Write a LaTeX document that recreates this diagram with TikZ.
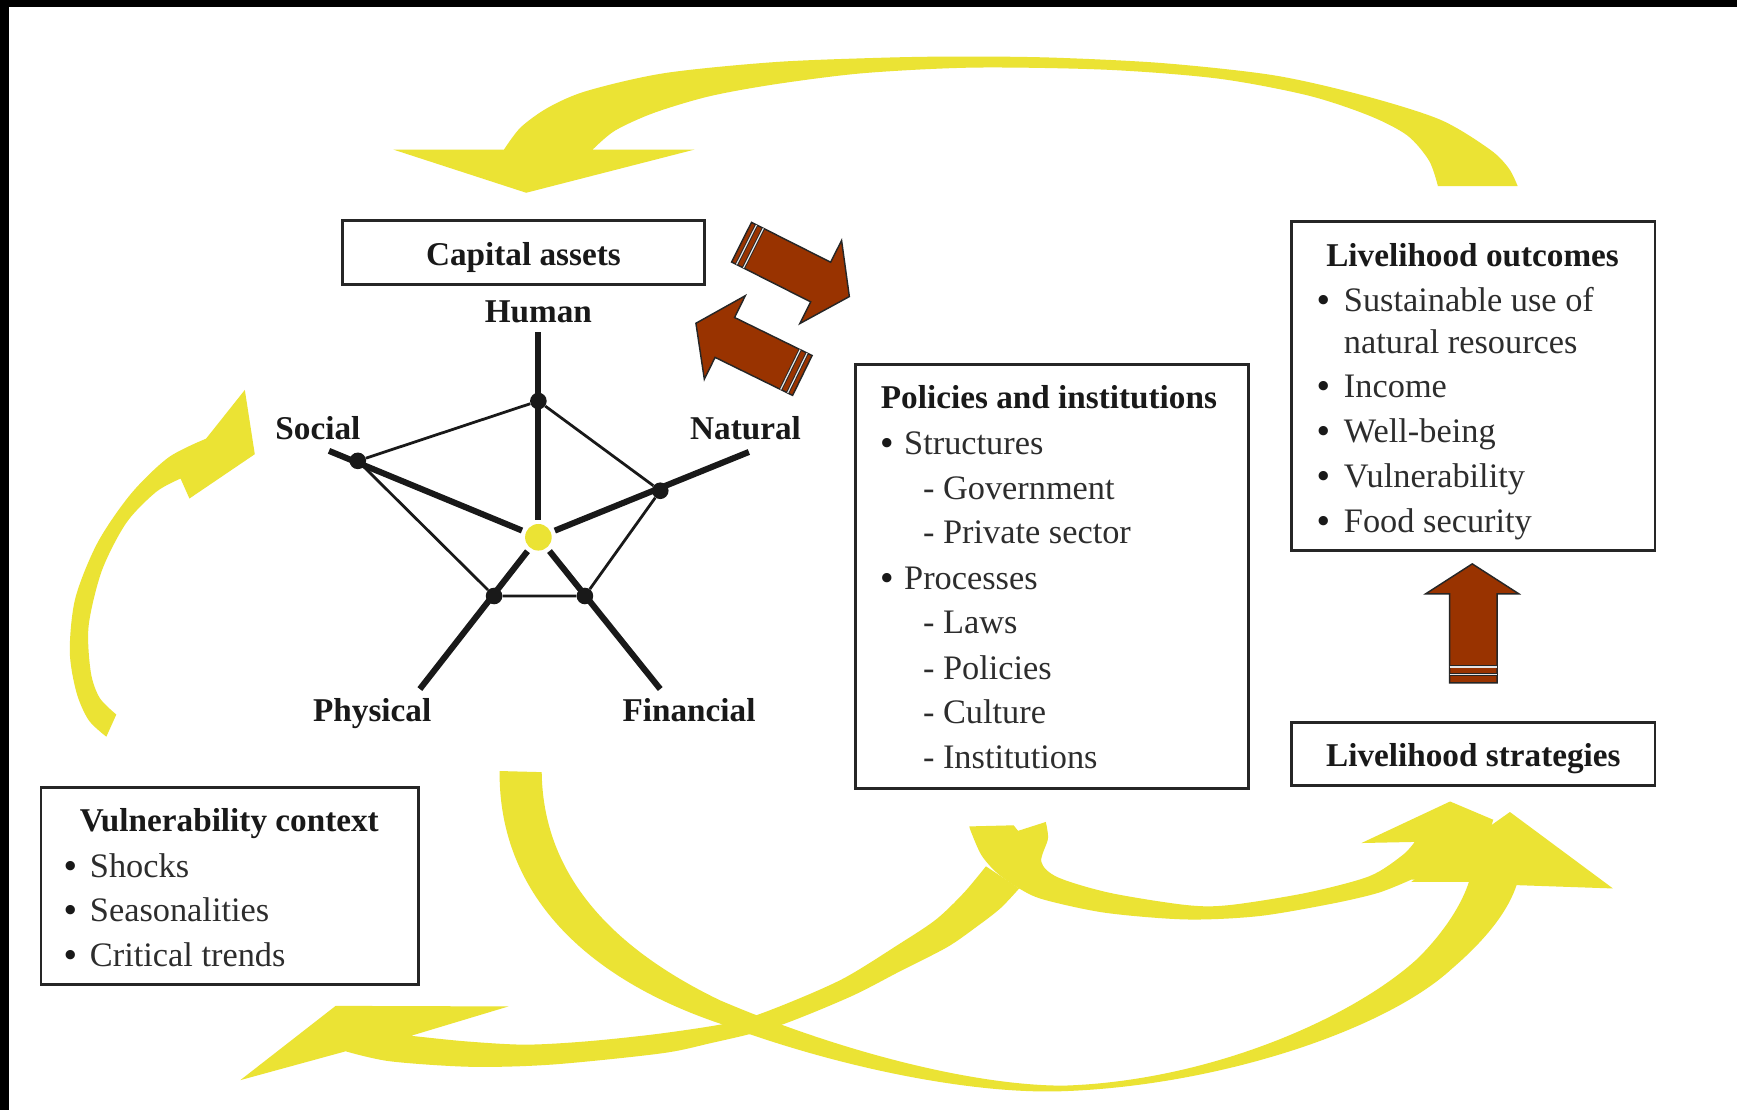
\documentclass[tikz,border=0pt]{standalone}
\usepackage{fontspec}
\setmainfont{Liberation Serif}
\usetikzlibrary{calc}
\definecolor{yel}{RGB}{235,227,52}
\definecolor{brn}{RGB}{153,51,0}
\definecolor{txt}{RGB}{45,45,45}
\begin{document}
\begin{tikzpicture}[x=1pt,y=-1pt,
  box/.style={draw=black!85,line width=2.5pt,inner sep=0pt},
  lbl/.style={font=\fontsize{30}{30}\selectfont\bfseries,text=black!90,inner sep=0pt,anchor=base},
  ttl/.style={font=\fontsize{30}{30}\selectfont\bfseries,text=black!90,inner sep=0pt,anchor=base west},
  itm/.style={font=\fontsize{31}{31}\selectfont,text=txt,inner sep=0pt,anchor=base west},
  bul/.style={font=\fontsize{31}{31}\selectfont\bfseries,text=black!90,inner sep=0pt,anchor=base west},
  yarrow/.style={fill=yel},
  barrow/.style={fill=brn,draw=black!85,line width=1.3pt,line join=miter},
  stripeb/.style={draw=black!85,line width=2.8pt},
  stripew/.style={draw=white!80!gray,line width=1.1pt},
  dotn/.style={circle,fill=black!90,inner sep=0pt,minimum size=15pt},
  spoke/.style={line width=5.5pt,draw=black!90},
  rim/.style={line width=2.5pt,draw=black!90}
]
\useasboundingbox (0,0) rectangle (1568,1002);
\fill[white] (0,0) rectangle (1568,1002);
% black frame bands
\fill[black] (0,0) rectangle (1568,6.3);
\fill[black] (0,0) rectangle (8,1002);

% ---------- yellow arrows ----------
% top arrow (outcomes -> capital assets)
\fill[yarrow] (355,135) -- (455,135) -- plot[smooth] coordinates {(455,135) (470,115) (495,97) (530,82) (600,66) (700,56) (800,52) (870,51) (950,52) (1050,57) (1150,68) (1230,86) (1300,108) (1345,135) (1362,152) (1370,168)}
  -- (1298,168) -- plot[smooth] coordinates {(1298,168) (1290,145) (1270,122) (1235,104) (1180,86) (1100,71) (1000,63) (880,61) (780,66) (700,76) (640,87) (590,102) (555,118) (535,135)}
  -- (627,135) -- (475,174) -- cycle;
% left arrow (vulnerability -> social)
\fill[yarrow] plot[smooth] coordinates {(96,665) (80,650) (69,625) (63,588) (68,540) (88,490) (118,446) (152,413) (186,396)}
  -- (221,352) -- (230,410) -- (171,450) -- (163,432)
  -- plot[smooth] coordinates {(163,432) (141,444) (114,472) (92,515) (80,565) (82,607) (90,630) (105,645)} -- cycle;
% big U arrow (capital assets -> strategies)
\fill[yarrow] (451,696) .. controls (450,800) and (520,880) .. (650,924)
  .. controls (760,965) and (880,988) .. (960,985)
  .. controls (1100,980) and (1250,930) .. (1310,875)
  .. controls (1345,845) and (1362,820) .. (1369,799)
  -- (1456,802) -- (1363,733) -- (1274,796) -- (1326,796)
  .. controls (1320,815) and (1305,840) .. (1280,865)
  .. controls (1220,920) and (1090,976) .. (960,980)
  .. controls (880,980) and (760,950) .. (650,903)
  .. controls (540,850) and (490,780) .. (489,697) -- cycle;
% policies -> strategies
\fill[yarrow] (875,746) -- (915,745) -- (919,750) -- (944,742)
  -- plot[smooth] coordinates {(944,742) (946,757) (940,778) (955,792) (1002,806) (1071,817) (1110,817) (1179,806) (1236,791) (1266,772) (1277,760)}
  -- (1229,761) -- (1309,723.5) -- (1348,740) -- (1330,795) -- (1274,794)
  -- plot[smooth] coordinates {(1274,794) (1244,806) (1201,816) (1136,827) (1071,830) (998,824) (942,812) (920,802) (900,788) (886,772) (877,752) (875,746)} -- cycle;
% policies -> vulnerability
\fill[yarrow] plot[smooth] coordinates {(890,782) (870,806) (845,830) (812,852) (760,884) (700,910) (660,923) (596,933) (530,940) (474,943) (420,940) (371,935)}
  -- (459,908.5) -- (303,908) -- (217,975) -- (312,949)
  -- plot[smooth] coordinates {(312,949) (352,958) (425,963) (498,961) (596,951) (640,942) (700,927) (767,900) (812,877) (855,855) (881,837) (903,820) (920,802)} -- cycle;

% ---------- boxes ----------
\node[box,minimum width=327pt,minimum height=58pt] (cap) at (472.5,228) {};
\node[box,minimum width=355pt,minimum height=383pt] (pol) at (949.5,520.5) {};
\node[box,minimum width=328pt,minimum height=297pt] (lo) at (1330,348.5) {};
\node[box,minimum width=328pt,minimum height=57pt] (ls) at (1330,680.5) {};
\node[box,minimum width=341pt,minimum height=178pt] (vc) at (207.5,800) {};

% ---------- brown arrows ----------
\filldraw[barrow] (678.4,200.7) -- (749.8,236.7) -- (759.7,217.1) -- (766.7,267.7) -- (722.0,292.1) -- (731.8,272.5) -- (660.4,236.5) -- cycle;
\draw[stripeb] (682.9,203.0) -- (664.9,238.7);
\draw[stripew] (682.9,203.0) -- (664.9,238.7);
\draw[stripeb] (689.1,206.1) -- (671.1,241.9);
\draw[stripew] (689.1,206.1) -- (671.1,241.9);

\filldraw[barrow] (733.1,320.9) -- (663.1,286.6) -- (672.8,266.9) -- (628.2,291.8) -- (635.8,342.3) -- (645.5,322.6) -- (715.5,356.9) -- cycle;
\draw[stripeb] (728.6,318.7) -- (711.0,354.7);
\draw[stripew] (728.6,318.7) -- (711.0,354.7);
\draw[stripeb] (722.3,315.6) -- (704.7,351.6);
\draw[stripew] (722.3,315.6) -- (704.7,351.6);

\filldraw[barrow] (1308.5,616.5) -- (1308.5,536) -- (1287,536) -- (1329,509) -- (1371,536) -- (1351.5,536) -- (1351.5,616.5) -- cycle;
\draw[stripeb] (1308.5,609) -- (1351.5,609);
\draw[stripew] (1308.5,609) -- (1351.5,609);
\draw[stripeb] (1308.5,602) -- (1351.5,602);
\draw[stripew] (1308.5,602) -- (1351.5,602);

% ---------- capital assets pentagon ----------
\coordinate (O) at (486,485);
\coordinate (eH) at (486,300);
\coordinate (eS) at (297,407);
\coordinate (eN) at (676,408);
\coordinate (eP) at (379,622);
\coordinate (eF) at (596,622);
\foreach \e in {eH,eS,eN,eP,eF}
  \draw[spoke] (\e) -- ($(O)!16pt!(\e)$);
\node[dotn] (H) at (486,362) {};
\node[dotn] (S) at (323,416) {};
\node[dotn] (N) at (596,443) {};
\node[dotn] (P) at (446,538) {};
\node[dotn] (F) at (528,538) {};
\draw[rim] (H) -- (N) -- (F) -- (P) -- (S) -- (H);
\node[circle,fill=yel,inner sep=0pt,minimum size=24pt] (Oc) at (O) {};

% ---------- labels ----------
\node[lbl] (tcap) at (472.5,240) {Capital assets};
\node[lbl] (tH) at (486,291) {Human};
\node[lbl] (tS) at (287,397) {Social};
\node[lbl] (tN) at (673,397) {Natural};
\node[lbl] (tP) at (336,651) {Physical};
\node[lbl] (tF) at (622,651) {Financial};

% policies box text
\node[ttl] (pt) at (795,369) {Policies and institutions};
\node[bul] at (795,410) {\textbullet};
\node[itm] at (816,410) {Structures};
\node[itm] at (833,451) {- Government};
\node[itm] at (833,491) {- Private sector};
\node[bul] at (795,532) {\textbullet};
\node[itm] at (816,532) {Processes};
\node[itm] at (833,572) {- Laws};
\node[itm] at (833,613) {- Policies};
\node[itm] at (833,653) {- Culture};
\node[itm] at (833,694) {- Institutions};

% livelihood outcomes text
\node[ttl] (lot) at (1197,241) {Livelihood outcomes};
\node[bul] at (1189,281) {\textbullet};
\node[itm] at (1213,281) {Sustainable use of};
\node[itm] at (1213,319) {natural resources};
\node[bul] at (1189,359) {\textbullet};
\node[itm] at (1213,359) {Income};
\node[bul] at (1189,399) {\textbullet};
\node[itm] at (1213,399) {Well-being};
\node[bul] at (1189,440) {\textbullet};
\node[itm] at (1213,440) {Vulnerability};
\node[bul] at (1189,481) {\textbullet};
\node[itm] at (1213,481) {Food security};

% livelihood strategies
\node[lbl] (lst) at (1330,692) {Livelihood strategies};

% vulnerability context
\node[ttl] (vct) at (72,751) {Vulnerability context};
\node[bul] at (58,792) {\textbullet};
\node[itm] at (81,792) {Shocks};
\node[bul] at (58,832) {\textbullet};
\node[itm] at (81,832) {Seasonalities};
\node[bul] at (58,872) {\textbullet};
\node[itm] at (81,872) {Critical trends};
\end{tikzpicture}
\end{document}
